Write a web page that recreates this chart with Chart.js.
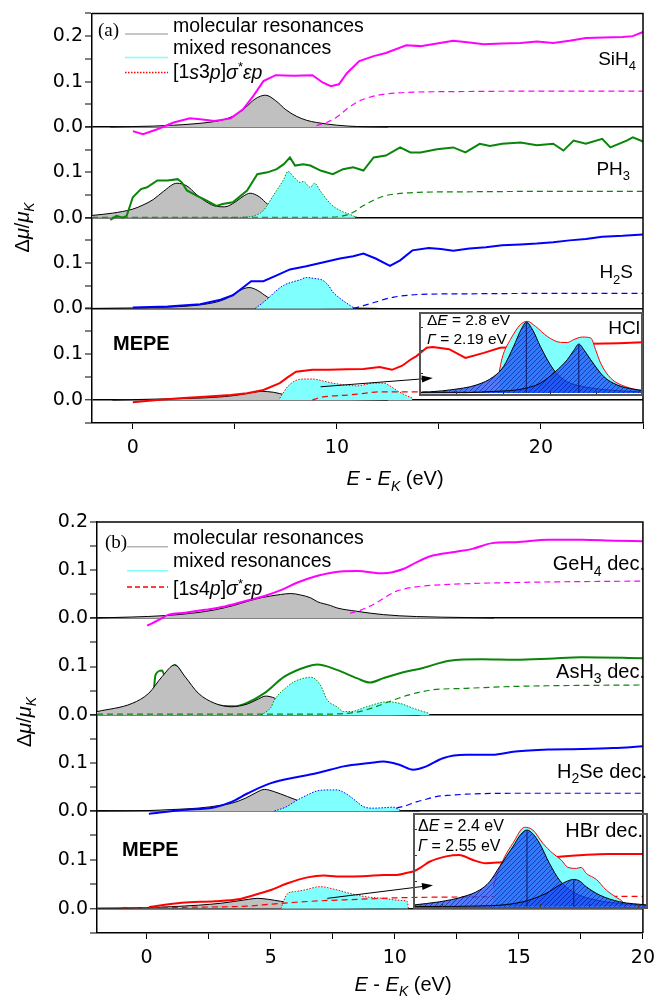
<!DOCTYPE html>
<html>
<head>
<meta charset="utf-8">
<script src="https://cdn.jsdelivr.net/npm/chart.js@4.4.1/dist/chart.umd.min.js"></script>
<style>
  body { margin: 0; background: #fff; }
  #wrap { position: relative; width: 663px; height: 1000px; }
  canvas { position: absolute; }
</style>
</head>
<body>
<div id="wrap">
  <canvas id="pa" width="663" height="495" style="left:0;top:0"></canvas>
  <canvas id="pb" width="663" height="505" style="left:0;top:495px"></canvas>
  <canvas id="ia" width="224" height="84" style="left:419px;top:312px"></canvas>
  <canvas id="ib" width="235" height="96" style="left:413px;top:813px"></canvas>
</div>
<script>
// ---------- panel (a) data : x in eV (E - E_K), y in delta mu / mu_K ----------
var SI_X = [0, 0.5, 1.2, 2.0, 2.8, 3.3, 4.0, 4.8, 5.4, 5.9, 6.4, 7.0, 7.9, 8.8, 9.3, 9.7, 10.1, 10.5, 11.1, 11.8, 12.4, 13.4, 14.1, 14.9, 15.7, 16.5, 17.2, 18.1, 19.0, 19.8, 20.6, 21.4, 22.2, 23.1, 24.0, 24.5, 25];
var SI_Y = [-0.009, -0.016, -0.005, 0.010, 0.019, 0.017, 0.013, 0.019, 0.039, 0.068, 0.101, 0.114, 0.113, 0.114, 0.098, 0.090, 0.094, 0.119, 0.145, 0.156, 0.163, 0.180, 0.178, 0.184, 0.190, 0.186, 0.182, 0.184, 0.185, 0.188, 0.185, 0.190, 0.196, 0.197, 0.198, 0.200, 0.209];
var SI_MOL_X = [-1.1, 0, 1, 2, 3, 4, 4.5, 5, 5.5, 6, 6.5, 7, 7.5, 8, 8.5, 9, 10, 11, 12.5];
var SI_MOL_Y = [0, 0.001, 0.002, 0.004, 0.007, 0.012, 0.017, 0.026, 0.042, 0.062, 0.070, 0.058, 0.038, 0.024, 0.015, 0.010, 0.004, 0.001, 0];
var SI_CONT_X = [9.0, 9.5, 10, 10.5, 11, 11.5, 12, 13, 14, 16, 20, 25];
var SI_CONT_Y = [0.003, 0.010, 0.022, 0.040, 0.055, 0.064, 0.070, 0.075, 0.077, 0.078, 0.079, 0.079];

var PH_X = [-1.1, -0.8, -0.5, -0.3, 0.0, 0.4, 0.7, 1.2, 1.7, 2.2, 2.4, 2.65, 3.1, 3.6, 4.1, 4.4, 4.9, 5.6, 6.1, 6.6, 7.05, 7.4, 7.7, 7.95, 8.35, 8.7, 9.2, 9.8, 10.3, 10.8, 11.3, 11.8, 12.4, 13.1, 13.6, 14.1, 14.9, 15.7, 16.3, 17.0, 17.5, 18.1, 19.0, 19.8, 20.6, 21.1, 21.6, 22.2, 23.0, 23.4, 24.2, 24.5, 25];
var PH_Y = [-0.005, 0.004, 0.0, 0.004, 0.045, 0.063, 0.067, 0.082, 0.082, 0.085, 0.078, 0.060, 0.049, 0.038, 0.026, 0.030, 0.034, 0.060, 0.096, 0.100, 0.107, 0.118, 0.133, 0.115, 0.118, 0.115, 0.104, 0.096, 0.107, 0.111, 0.104, 0.133, 0.137, 0.155, 0.144, 0.144, 0.151, 0.155, 0.144, 0.163, 0.158, 0.163, 0.166, 0.160, 0.163, 0.148, 0.170, 0.163, 0.174, 0.155, 0.170, 0.177, 0.168];
var PH_MOL_X = [-2, -1, 0, 0.5, 1, 1.5, 2.16, 2.65, 3.1, 3.6, 4.1, 4.5, 5.0, 5.4, 5.75, 6.2, 6.6, 7.0, 7.4, 8.2, 9.0, 10.0, 11.0];
var PH_MOL_Y = [0.005, 0.010, 0.019, 0.028, 0.040, 0.058, 0.076, 0.070, 0.052, 0.035, 0.025, 0.024, 0.034, 0.047, 0.054, 0.046, 0.030, 0.019, 0.012, 0.006, 0.003, 0.002, 0.001];
var PH_MIX_X = [4.8, 5.5, 6.0, 6.4, 6.9, 7.4, 7.6, 7.9, 8.2, 8.35, 8.7, 8.9, 9.2, 9.7, 10.2, 10.6, 10.9];
var PH_MIX_Y = [0, 0.001, 0.005, 0.016, 0.050, 0.085, 0.102, 0.089, 0.078, 0.080, 0.067, 0.076, 0.058, 0.030, 0.015, 0.008, 0.002];
var PH_CONT_X = [-2, 9.5, 10.3, 10.8, 11.2, 11.6, 12.0, 12.4, 13, 14, 16, 20, 25];
var PH_CONT_Y = [0.001, 0.001, 0.004, 0.012, 0.024, 0.034, 0.043, 0.049, 0.053, 0.056, 0.057, 0.058, 0.058];

var HS_X = [0, 1.7, 3.3, 4.3, 4.9, 5.4, 5.8, 6.4, 7.05, 7.7, 8.5, 9.3, 10.15, 10.8, 11.3, 11.9, 12.6, 13.1, 13.7, 14.5, 15.1, 15.7, 16.5, 17.3, 18.1, 19.0, 19.8, 20.6, 21.4, 22.2, 23.0, 24.0, 25];
var HS_Y = [0.002, 0.004, 0.009, 0.019, 0.029, 0.046, 0.060, 0.060, 0.073, 0.086, 0.093, 0.101, 0.110, 0.115, 0.121, 0.110, 0.094, 0.106, 0.128, 0.133, 0.131, 0.127, 0.132, 0.135, 0.139, 0.141, 0.143, 0.146, 0.150, 0.153, 0.158, 0.160, 0.163];
var HS_MOL_X = [-2, 0, 1, 2.5, 3.5, 4.1, 4.6, 5.0, 5.4, 5.7, 6.1, 6.6, 7.0, 7.4, 8.0, 9.0, 10.5, 12];
var HS_MOL_Y = [0, 0.001, 0.002, 0.0045, 0.009, 0.014, 0.022, 0.033, 0.043, 0.046, 0.040, 0.025, 0.016, 0.010, 0.006, 0.002, 0.001, 0];
var HS_MIX_X = [6.0, 6.3, 6.7, 7.0, 7.4, 7.8, 8.2, 8.5, 8.9, 9.3, 9.6, 9.8, 10.1, 10.4, 10.8];
var HS_MIX_Y = [0, 0.010, 0.025, 0.038, 0.051, 0.058, 0.063, 0.068, 0.066, 0.062, 0.050, 0.036, 0.024, 0.014, 0.002];
var HS_CONT_X = [10.8, 11.3, 11.9, 12.4, 12.8, 13.5, 14.1, 16, 20, 25];
var HS_CONT_Y = [0.0, 0.006, 0.014, 0.021, 0.025, 0.029, 0.031, 0.032, 0.033, 0.033];

var CL_X = [0, 1.2, 2.3, 3.5, 4.8, 5.6, 6.4, 7.2, 7.6, 8.0, 8.8, 9.6, 10.5, 11.3, 12.1, 12.7, 13.2, 13.6, 13.9, 14.4, 14.7, 15.5, 16.3, 17.2, 18.0, 19.0, 20.0, 21.0, 22.5, 23.8, 25];
var CL_Y = [-0.005, 0.0, 0.004, 0.007, 0.011, 0.015, 0.022, 0.037, 0.050, 0.062, 0.066, 0.066, 0.067, 0.068, 0.072, 0.066, 0.075, 0.088, 0.096, 0.114, 0.116, 0.111, 0.092, 0.103, 0.114, 0.116, 0.118, 0.120, 0.123, 0.124, 0.126];
var CL_MOL_X = [-1, 0, 2, 3, 4, 5, 5.8, 6.3, 6.9, 7.5, 8.0, 8.8, 9.7, 11, 12.5];
var CL_MOL_Y = [0, 0.001, 0.003, 0.004, 0.006, 0.010, 0.016, 0.019, 0.017, 0.011, 0.007, 0.004, 0.002, 0.001, 0];
var CL_MIX_X = [7.2, 7.6, 8.0, 8.4, 8.8, 9.3, 9.8, 10.4, 11.0, 11.4, 11.8, 12.3, 12.6, 12.9, 13.3, 13.7];
var CL_MIX_Y = [0.004, 0.030, 0.043, 0.046, 0.046, 0.042, 0.037, 0.033, 0.031, 0.034, 0.037, 0.037, 0.031, 0.022, 0.012, 0.004];
var CL_CONT_X = [8.8, 9.2, 9.8, 10.5, 11.2, 12.1, 13, 14, 16, 20, 25];
var CL_CONT_Y = [0.0, 0.006, 0.009, 0.011, 0.014, 0.018, 0.018, 0.018, 0.018, 0.018, 0.018];
var CL_ARROW_X = [9.2, 14.7];
var CL_ARROW_Y = [0.029, 0.048];

// HCl inset: decomposition of the mixed resonance
var CLI_ENV_X = [7.3, 7.45, 7.9, 8.43, 8.79, 9.24, 9.87, 10.58, 10.94, 11.3, 11.75, 12.2, 12.46, 12.73, 13.27, 14.17, 15];
var CLI_ENV_Y = [0.014, 0.0228, 0.035, 0.0447, 0.0469, 0.0436, 0.037, 0.0331, 0.033, 0.035, 0.0366, 0.036, 0.0283, 0.0195, 0.0097, 0.0037, 0.0015];
var CLI_P1_X = [3, 4.67, 6.1, 7.0, 7.53, 8.07, 8.45, 8.75, 9.1, 9.5, 10.22, 10.94, 12.0, 13.6, 15];
var CLI_P1_Y = [0.0002, 0.002, 0.0053, 0.0107, 0.0173, 0.0305, 0.041, 0.0463, 0.041, 0.0305, 0.0151, 0.0074, 0.0037, 0.0015, 0.0007];
var CLI_P2_X = [3, 5.56, 7.0, 8.25, 9.0, 9.5, 10.31, 10.94, 11.3, 11.56, 11.85, 12.2, 12.9, 13.6, 14.5, 15];
var CLI_P2_Y = [0.0001, 0.0002, 0.001, 0.002, 0.004, 0.0064, 0.014, 0.0217, 0.028, 0.032, 0.028, 0.0217, 0.0107, 0.0053, 0.0024, 0.0015];

// ---------- panel (b) data ----------
var GE_X = [0.02, 0.49, 0.89, 1.55, 2.35, 3.15, 3.95, 4.75, 5.41, 6.08, 6.75, 7.5, 8.47, 9.54, 10.34, 10.87, 11.4, 12.47, 13.13, 13.93, 14.86, 16.19, 17.53, 18.86, 20];
var GE_Y = [-0.016, -0.004, 0.007, 0.011, 0.017, 0.024, 0.035, 0.046, 0.058, 0.074, 0.086, 0.095, 0.098, 0.093, 0.102, 0.116, 0.128, 0.138, 0.144, 0.156, 0.158, 0.163, 0.163, 0.161, 0.160];
var GE_MOL_X = [-2, 0.75, 2.0, 2.75, 3.5, 4.08, 4.6, 5.01, 5.4, 5.81, 6.2, 6.61, 6.88, 7.41, 7.67, 8.47, 9.54, 10.87, 12.87, 14];
var GE_MOL_Y = [0, 0.005, 0.011, 0.017, 0.026, 0.035, 0.042, 0.046, 0.049, 0.051, 0.048, 0.042, 0.034, 0.026, 0.021, 0.014, 0.007, 0.003, 0.001, 0];
var GE_CONT_X = [8.2, 8.61, 9.27, 9.7, 10.07, 10.87, 12.2, 14.86, 20];
var GE_CONT_Y = [0.010, 0.016, 0.032, 0.046, 0.056, 0.065, 0.070, 0.074, 0.077];

var AS_X = [-0.1, 0.25, 0.36, 0.62, 0.75, 1.0, 1.13, 1.5, 2.0, 2.5, 3.0, 3.5, 4.0, 4.75, 5.55, 6.48, 6.88, 7.67, 8.47, 9.0, 9.54, 10.34, 11.14, 12.2, 13.53, 14.86, 16.19, 17.53, 20];
var AS_Y = [0.003, 0.031, 0.083, 0.092, 0.079, 0.098, 0.103, 0.079, 0.045, 0.026, 0.019, 0.018, 0.024, 0.045, 0.079, 0.100, 0.104, 0.093, 0.076, 0.067, 0.076, 0.088, 0.097, 0.112, 0.115, 0.114, 0.116, 0.119, 0.117];
var AS_MOL_X = [-2, -0.58, 0.09, 0.62, 1.13, 1.55, 2.08, 2.75, 3.42, 4.08, 4.5, 4.8, 5.15, 5.55, 6.35, 7.41, 9, 11];
var AS_MOL_Y = [0.007, 0.024, 0.045, 0.079, 0.103, 0.079, 0.045, 0.024, 0.017, 0.023, 0.033, 0.039, 0.035, 0.024, 0.010, 0.006, 0.002, 0];
var AS_MIX_X = [4.6, 5.0, 5.15, 5.68, 6.0, 6.35, 6.61, 7.0, 7.28, 7.67, 7.94, 8.21, 8.87, 9.67, 10.2, 10.74, 11.4];
var AS_MIX_Y = [0, 0.015, 0.031, 0.059, 0.070, 0.076, 0.078, 0.062, 0.031, 0.017, 0.007, 0.007, 0.017, 0.027, 0.024, 0.014, 0.003];
var AS_CONT_X = [-2, 7.5, 8.47, 9.0, 9.54, 10.34, 11.0, 11.54, 12.87, 14.86, 20];
var AS_CONT_Y = [0.002, 0.002, 0.006, 0.013, 0.023, 0.038, 0.047, 0.052, 0.055, 0.059, 0.062];

var SE_X = [0.09, 1.42, 2.75, 3.42, 4.08, 5.01, 6.08, 6.88, 7.94, 9.0, 9.54, 10.2, 10.74, 11.27, 11.94, 12.87, 13.93, 14.86, 16.19, 17.53, 18.8, 20];
var SE_Y = [-0.006, 0.002, 0.008, 0.019, 0.037, 0.058, 0.071, 0.079, 0.093, 0.100, 0.103, 0.096, 0.086, 0.093, 0.110, 0.117, 0.117, 0.124, 0.128, 0.129, 0.131, 0.135];
var SE_MOL_X = [-2, 0.09, 1.0, 2.08, 3.0, 3.42, 4.0, 4.4, 4.75, 5.1, 5.68, 6.2, 6.75, 7.67, 8.5, 9.54, 11];
var SE_MOL_Y = [0, 0.001, 0.003, 0.006, 0.012, 0.016, 0.027, 0.038, 0.045, 0.041, 0.030, 0.020, 0.013, 0.006, 0.003, 0.001, 0];
var SE_MIX_X = [5.15, 5.6, 6.08, 6.5, 6.88, 7.41, 7.67, 7.9, 8.21, 8.5, 8.74, 9.14, 9.6, 9.94, 10.2];
var SE_MIX_Y = [0, 0.008, 0.023, 0.034, 0.042, 0.044, 0.044, 0.040, 0.030, 0.018, 0.009, 0.006, 0.007, 0.008, 0.002];
var SE_CONT_X = [10.07, 10.5, 10.87, 11.3, 11.67, 12.3, 12.87, 14.86, 20];
var SE_CONT_Y = [0.006, 0.012, 0.019, 0.025, 0.030, 0.033, 0.035, 0.037, 0.037];

var BR_X = [0.09, 1.42, 2.75, 3.68, 4.35, 5.01, 5.68, 6.48, 7.14, 7.67, 8.21, 8.9, 9.54, 10.07, 10.47, 10.74, 11.1, 11.4, 12.07, 12.6, 13.13, 13.67, 14.3, 15.0, 15.8, 16.73, 17.6, 18.59, 20];
var BR_Y = [0.003, 0.012, 0.015, 0.019, 0.028, 0.038, 0.052, 0.064, 0.068, 0.066, 0.066, 0.067, 0.069, 0.069, 0.073, 0.076, 0.086, 0.096, 0.107, 0.110, 0.100, 0.093, 0.095, 0.098, 0.102, 0.107, 0.110, 0.112, 0.112];
var BR_MOL_X = [-2, 0.09, 1.0, 2.08, 3.0, 3.7, 4.1, 4.48, 4.9, 5.4, 6.08, 6.8, 7.41, 8.5, 10];
var BR_MOL_Y = [0.001, 0.002, 0.004, 0.007, 0.011, 0.016, 0.019, 0.021, 0.019, 0.015, 0.010, 0.006, 0.003, 0.001, 0];
var BR_MIX_X = [5.41, 5.68, 6.0, 6.35, 7.0, 7.54, 8.21, 8.87, 9.54, 10.2, 10.5, 10.55];
var BR_MIX_Y = [0.0, 0.031, 0.035, 0.038, 0.045, 0.040, 0.031, 0.024, 0.021, 0.017, 0.015, 0.0];
var BR_CONT_X = [-1, 2, 4, 5, 6, 7, 8, 9, 10, 11, 13, 16, 20];
var BR_CONT_Y = [0.002, 0.003, 0.005, 0.009, 0.013, 0.016, 0.018, 0.020, 0.022, 0.023, 0.024, 0.025, 0.025];
var BR_ARROW_X = [7.28, 11.54];
var BR_ARROW_Y = [0.021, 0.048];

// HBr inset
var BRI_ENV_X = [7.6, 7.75, 8.18, 8.6, 9.2, 9.62, 10.13, 10.64, 11.07, 11.41, 11.84, 12.09, 12.35, 12.86, 13.37, 13.88, 14.21, 14.39];
var BRI_ENV_Y = [0.012, 0.0174, 0.029, 0.0369, 0.0462, 0.0446, 0.0369, 0.031, 0.0272, 0.0229, 0.0223, 0.0229, 0.0194, 0.0159, 0.0097, 0.0055, 0.0029, 0.0];
var BRI_P1_X = [3.5, 4.86, 6.05, 6.9, 7.41, 7.92, 8.6, 9.0, 9.32, 9.65, 9.96, 10.47, 10.98, 11.66, 12.68, 14.05, 15.5];
var BRI_P1_Y = [0.001, 0.0029, 0.0058, 0.0097, 0.0145, 0.0233, 0.0349, 0.042, 0.0446, 0.042, 0.0369, 0.0252, 0.0155, 0.0087, 0.0043, 0.002, 0.0006];
var BRI_P2_X = [3.5, 7.41, 9.11, 10.3, 10.98, 11.4, 11.71, 12.0, 12.35, 13.03, 14.05, 15.5];
var BRI_P2_Y = [0.0001, 0.0006, 0.0029, 0.0078, 0.0126, 0.0150, 0.0159, 0.0150, 0.0116, 0.0068, 0.0029, 0.001];

// ---------- texts ----------
var FONT = "'Liberation Sans', Arial, sans-serif";
var TICK_FONT = "'DejaVu Sans', 'Liberation Sans', sans-serif";
var SERIF = "'Liberation Serif', 'Times New Roman', serif";
var LEG_A = [[['molecular resonances', '']], [['mixed resonances', '']],
             [['[1', ''], ['s', 'i'], ['3', ''], ['p', 'i'], [']', ''], ['σ', 'i'], ['*', 'u'], ['ε', 'i'], ['p', 'i']]];
var LEG_B = [[['molecular resonances', '']], [['mixed resonances', '']],
             [['[1', ''], ['s', 'i'], ['4', ''], ['p', 'i'], [']', ''], ['σ', 'i'], ['*', 'u'], ['ε', 'i'], ['p', 'i']]];
var Y_TITLE = [['Δ', ''], ['μ', 'i'], ['/', ''], ['μ', 'i'], ['K', 'is']];
var X_TITLE = [['E', 'i'], [' - ', ''], ['E', 'i'], ['K', 'is'], [' (eV)', '']];

var MAGENTA = '#ff00ff', GREEN = '#0a850a', BLUE = '#0000ff', RED = '#ff0000';
var GRAY = '#c0c0c0', CYAN = '#80ffff';

// ---------- helpers ----------
function pts(xs, ys) {
    return xs.map(function (x, i) { return {x: x, y: ys[i]}; });
}

function setFont(ctx, size, st, fam) {
    ctx.font = (st.indexOf('i') >= 0 ? 'italic ' : '') + (st.indexOf('b') >= 0 ? 'bold ' : '') + size + 'px ' + fam;
}
function segSize(size, st) {
    return (st.indexOf('s') >= 0 || st.indexOf('u') >= 0) ? Math.round(size * 0.68) : size;
}
function drawRich(ctx, segs, x, y, o) {
    var size = o.size || 18, fam = o.fam || FONT, base = o.base || '';
    var w = 0;
    segs.forEach(function (s) { setFont(ctx, segSize(size, s[1]), base + s[1], fam); w += ctx.measureText(s[0]).width; });
    var cx = o.align === 'right' ? x - w : (o.align === 'center' ? x - w / 2 : x);
    ctx.save();
    ctx.fillStyle = '#000';
    ctx.textBaseline = 'middle';
    ctx.textAlign = 'left';
    segs.forEach(function (s) {
        var st = s[1];
        setFont(ctx, segSize(size, st), base + st, fam);
        var dy = st.indexOf('s') >= 0 ? size * 0.38 : (st.indexOf('u') >= 0 ? -size * 0.3 : 0);
        ctx.fillText(s[0], cx, y + dy);
        cx += ctx.measureText(s[0]).width;
    });
    ctx.restore();
}

// curves of one sub-plot may run into the neighbouring one, as in the original figure
function solid(xs, ys, axis, color, smooth, order) {
    return {data: pts(xs, ys), yAxisID: axis, borderColor: color, borderWidth: 2, fill: false, clip: false,
            order: order || 1, tension: 0, cubicInterpolationMode: smooth ? 'monotone' : 'default'};
}
function dashed(xs, ys, axis, color) {
    return {data: pts(xs, ys), yAxisID: axis, borderColor: color, borderWidth: 1.2, borderDash: [6, 4],
            fill: false, clip: false, order: 2, cubicInterpolationMode: 'monotone'};
}
function mixed(xs, ys, axis, color) {
    return {data: pts(xs, ys), yAxisID: axis, borderColor: color, borderWidth: 1, borderDash: [1.5, 1.5],
            backgroundColor: CYAN, fill: 'origin', clip: false, order: 3, cubicInterpolationMode: 'monotone'};
}
function molecular(xs, ys, axis) {
    return {data: pts(xs, ys), yAxisID: axis, borderColor: '#000', borderWidth: 1, clip: false,
            backgroundColor: GRAY, fill: 'origin', order: 4, cubicInterpolationMode: 'monotone'};
}

function yAxis(min, max, weight, stackWeight, showTop, axW) {
    return {
        type: 'linear', position: 'left', stack: 'p', stackWeight: stackWeight, weight: weight,
        min: min, max: max,
        afterFit: function (s) { s.width = axW; },
        ticks: {
            stepSize: 0.05, includeBounds: false, autoSkip: false, color: '#000', padding: 2,
            font: {family: TICK_FONT, size: 19},
            callback: function (v) {
                if (Math.round(v * 20) % 2 !== 0) return '';
                if (v < -1e-9) return '';
                if (!showTop && Math.abs(v - max) < 1e-9) return '';
                return Math.abs(v).toFixed(1);
            }
        },
        grid: {
            drawOnChartArea: true,
            color: function (c) { return (c.tick && Math.abs(c.tick.value) < 1e-9) ? '#000' : 'rgba(0,0,0,0)'; },
            lineWidth: function (c) { return (c.tick && Math.abs(c.tick.value) < 1e-9) ? 1.6 : 0; },
            tickColor: '#000', tickWidth: 1, tickLength: 7
        },
        border: {color: '#000', width: 1.5}
    };
}

function xAxis(min, max, step, labelEvery, axH) {
    return {
        type: 'linear', position: 'bottom', min: min, max: max,
        afterFit: function (s) { s.height = axH; },
        ticks: {
            stepSize: step, includeBounds: false, autoSkip: false, maxRotation: 0, color: '#000', padding: 8,
            font: {family: TICK_FONT, size: 19},
            callback: function (v) { return Math.abs(v / labelEvery - Math.round(v / labelEvery)) < 1e-6 ? String(v) : ''; }
        },
        grid: {drawOnChartArea: false, color: '#000', tickColor: '#000', tickWidth: 1, tickLength: 6},
        border: {color: '#000', width: 1.5}
    };
}

var decor = {
    id: 'decor',
    afterDraw: function (chart) {
        var o = chart.options.plugins.decor;
        var ctx = chart.ctx, a = chart.chartArea;
        ctx.save();
        ctx.strokeStyle = '#000';
        ctx.lineWidth = 1.5;
        ctx.beginPath();
        ctx.moveTo(a.left, a.top); ctx.lineTo(a.right, a.top); ctx.lineTo(a.right, a.bottom);
        ctx.stroke();
        ctx.restore();

        o.legend.forEach(function (e, i) {
            ctx.save();
            ctx.strokeStyle = e.color; ctx.lineWidth = 1.5; ctx.setLineDash(e.dash || []);
            ctx.beginPath();
            ctx.moveTo(a.left + o.legX[0], a.top + e.ly);
            ctx.lineTo(a.left + o.legX[1], a.top + e.ly);
            ctx.stroke();
            ctx.restore();
            drawRich(ctx, o.legText[i], a.left + o.legX[2], a.top + e.ty, {size: 19.5});
        });
        o.labels.forEach(function (l) { drawRich(ctx, l.text, a.left + l.x, a.top + l.y, l); });

        drawRich(ctx, X_TITLE, a.left + o.xtitle[0], a.top + o.xtitle[1], {size: 20, align: 'center'});
        ctx.save();
        ctx.translate(a.left + o.ytitle[0], a.top + o.ytitle[1]);
        ctx.rotate(-Math.PI / 2);
        drawRich(ctx, Y_TITLE, 0, 0, {size: 20, align: 'center'});
        ctx.restore();

        // arrow towards the inset
        var xs = chart.scales.x, ys = chart.scales[o.arrow.axis];
        var x1 = xs.getPixelForValue(o.arrow.x[0]), y1 = ys.getPixelForValue(o.arrow.y[0]);
        var x2 = xs.getPixelForValue(o.arrow.x[1]), y2 = ys.getPixelForValue(o.arrow.y[1]);
        var ang = Math.atan2(y2 - y1, x2 - x1);
        ctx.save();
        ctx.strokeStyle = '#000'; ctx.fillStyle = '#000'; ctx.lineWidth = 1;
        ctx.beginPath(); ctx.moveTo(x1, y1); ctx.lineTo(x2 - 8 * Math.cos(ang), y2 - 8 * Math.sin(ang)); ctx.stroke();
        ctx.beginPath();
        ctx.moveTo(x2, y2);
        ctx.lineTo(x2 - 11 * Math.cos(ang) + 3.5 * Math.sin(ang), y2 - 11 * Math.sin(ang) - 3.5 * Math.cos(ang));
        ctx.lineTo(x2 - 11 * Math.cos(ang) - 3.5 * Math.sin(ang), y2 - 11 * Math.sin(ang) + 3.5 * Math.cos(ang));
        ctx.closePath(); ctx.fill();
        ctx.restore();
    }
};

var insetDecor = {
    id: 'insetDecor',
    afterDraw: function (chart) {
        var o = chart.options.plugins.insetDecor;
        var ctx = chart.ctx, a = chart.chartArea;
        var sx = chart.scales.x, sy = chart.scales.y;
        ctx.save();
        ctx.strokeStyle = '#333'; ctx.lineWidth = 1;
        sx.ticks.forEach(function (t) {
            var px = Math.round(sx.getPixelForValue(t.value)) + 0.5;
            ctx.beginPath(); ctx.moveTo(px, a.bottom); ctx.lineTo(px, a.bottom - 5); ctx.stroke();
        });
        sy.ticks.forEach(function (t) {
            var py = Math.round(sy.getPixelForValue(t.value)) + 0.5;
            ctx.beginPath(); ctx.moveTo(a.left, py); ctx.lineTo(a.left + 4, py); ctx.stroke();
        });
        ctx.strokeStyle = '#555'; ctx.lineWidth = 2;
        ctx.strokeRect(a.left + 1, a.top + 1, a.right - a.left - 2, a.bottom - a.top - 2);
        ctx.restore();
        o.texts.forEach(function (t) { drawRich(ctx, t.text, a.left + t.x, a.top + t.y, t); });
    }
};

function hatch() {
    var c = document.createElement('canvas');
    c.width = 5; c.height = 5;
    var g = c.getContext('2d');
    g.fillStyle = 'rgba(25,80,245,0.76)';
    g.fillRect(0, 0, 5, 5);
    g.strokeStyle = 'rgba(0,0,130,0.5)';
    g.lineWidth = 1;
    g.beginPath();
    g.moveTo(0, 5); g.lineTo(5, 0);
    g.moveTo(-1, 1); g.lineTo(1, -1);
    g.moveTo(4, 6); g.lineTo(6, 4);
    g.stroke();
    return g.createPattern(c, 'repeat');
}
var HATCH = hatch();

function peakLine(xs, ys) {
    var k = ys.indexOf(Math.max.apply(null, ys));
    return {data: [{x: xs[k], y: 0}, {x: xs[k], y: ys[k]}], borderColor: '#0a1a70', borderWidth: 1, fill: false, order: 0};
}

function baseOptions(pad, scales, dec) {
    return {
        responsive: false, animation: false, maintainAspectRatio: false,
        layout: {padding: pad},
        elements: {point: {radius: 0}},
        plugins: {legend: {display: false}, tooltip: {enabled: false}, decor: dec},
        scales: scales
    };
}

// ---------- panel (a) ----------
new Chart(document.getElementById('pa'), {
    type: 'line',
    data: {datasets: [
        solid(SI_X, SI_Y, 'y0', MAGENTA),
        dashed(SI_CONT_X, SI_CONT_Y, 'y0', MAGENTA),
        molecular(SI_MOL_X, SI_MOL_Y, 'y0'),
        solid(PH_X, PH_Y, 'y1', GREEN),
        dashed(PH_CONT_X, PH_CONT_Y, 'y1', GREEN),
        mixed(PH_MIX_X, PH_MIX_Y, 'y1', GREEN),
        molecular(PH_MOL_X, PH_MOL_Y, 'y1'),
        solid(HS_X, HS_Y, 'y2', BLUE),
        dashed(HS_CONT_X, HS_CONT_Y, 'y2', BLUE),
        mixed(HS_MIX_X, HS_MIX_Y, 'y2', BLUE),
        molecular(HS_MOL_X, HS_MOL_Y, 'y2'),
        solid(CL_X, CL_Y, 'y3', RED),
        dashed(CL_CONT_X, CL_CONT_Y, 'y3', RED),
        mixed(CL_MIX_X, CL_MIX_Y, 'y3', RED),
        molecular(CL_MOL_X, CL_MOL_Y, 'y3')
    ]},
    options: baseOptions({left: 0, top: 12, right: 20, bottom: 0}, {
        x: xAxis(-2, 25, 5, 10, 72),
        y0: yAxis(0, 0.25, 4, 114, false, 92),
        y1: yAxis(0, 0.2, 3, 91, false, 92),
        y2: yAxis(0, 0.2, 2, 91, false, 92),
        y3: yAxis(-0.05, 0.2, 1, 115, false, 92)
    }, {
        legX: [33, 76, 81],
        legText: LEG_A,
        legend: [{color: '#b4b4b4', ly: 20.7, ty: 13}, {color: CYAN, ly: 44, ty: 35.7}, {color: RED, dash: [1.5, 1.5], ly: 59, ty: 59.7}],
        labels: [
            {text: [['(a)', '']], x: 6, y: 18, size: 19, fam: SERIF},
            {text: [['SiH', ''], ['4', 's']], x: 544, y: 46, size: 19, align: 'right'},
            {text: [['PH', ''], ['3', 's']], x: 538, y: 156, size: 19, align: 'right'},
            {text: [['H', ''], ['2', 's'], ['S', '']], x: 541, y: 259.7, size: 19, align: 'right'},
            {text: [['HCl', '']], x: 548, y: 315, size: 19, align: 'right'},
            {text: [['MEPE', '']], x: 21, y: 331, size: 20, base: 'b'}
        ],
        xtitle: [303, 466],
        ytitle: [-69, 214],
        arrow: {axis: 'y3', x: CL_ARROW_X, y: CL_ARROW_Y}
    }),
    plugins: [decor]
});

// ---------- panel (b) ----------
new Chart(document.getElementById('pb'), {
    type: 'line',
    data: {datasets: [
        solid(GE_X, GE_Y, 'y0', MAGENTA, true),
        dashed(GE_CONT_X, GE_CONT_Y, 'y0', MAGENTA),
        molecular(GE_MOL_X, GE_MOL_Y, 'y0'),
        solid(AS_X, AS_Y, 'y1', GREEN, true, 5),
        dashed(AS_CONT_X, AS_CONT_Y, 'y1', GREEN),
        mixed(AS_MIX_X, AS_MIX_Y, 'y1', GREEN),
        molecular(AS_MOL_X, AS_MOL_Y, 'y1'),
        solid(SE_X, SE_Y, 'y2', BLUE, true),
        dashed(SE_CONT_X, SE_CONT_Y, 'y2', BLUE),
        mixed(SE_MIX_X, SE_MIX_Y, 'y2', BLUE),
        molecular(SE_MOL_X, SE_MOL_Y, 'y2'),
        solid(BR_X, BR_Y, 'y3', RED, true),
        dashed(BR_CONT_X, BR_CONT_Y, 'y3', RED),
        mixed(BR_MIX_X, BR_MIX_Y, 'y3', RED),
        molecular(BR_MOL_X, BR_MOL_Y, 'y3')
    ]},
    options: baseOptions({left: 0, top: 27, right: 14, bottom: 0}, {
        x: xAxis(-2, 20, 2.5, 5, 67),
        y0: yAxis(0, 0.2, 4, 96, true, 97),
        y1: yAxis(0, 0.2, 3, 97, false, 97),
        y2: yAxis(0, 0.2, 2, 96, false, 97),
        y3: yAxis(-0.05, 0.2, 1, 122, false, 97)
    }, {
        legX: [30, 71, 76],
        legText: LEG_B,
        legend: [{color: '#b4b4b4', ly: 24.7, ty: 17}, {color: CYAN, ly: 48.7, ty: 40}, {color: RED, dash: [5, 3], ly: 65, ty: 68}],
        labels: [
            {text: [['(b)', '']], x: 8, y: 21, size: 19, fam: SERIF},
            {text: [['GeH', ''], ['4', 's'], [' dec.', '']], x: 548, y: 42.7, size: 20, align: 'right'},
            {text: [['AsH', ''], ['3', 's'], [' dec.', '']], x: 548, y: 150, size: 20, align: 'right'},
            {text: [['H', ''], ['2', 's'], ['Se dec.', '']], x: 550, y: 250, size: 20, align: 'right'},
            {text: [['HBr dec.', '']], x: 546, y: 309, size: 20, align: 'right'},
            {text: [['MEPE', '']], x: 25, y: 328, size: 20, base: 'b'}
        ],
        xtitle: [306, 463],
        ytitle: [-72, 200],
        arrow: {axis: 'y3', x: BR_ARROW_X, y: BR_ARROW_Y}
    }),
    plugins: [decor]
});

// ---------- insets ----------
function inset(id, env, p1, p2, xr, yr, texts) {
    new Chart(document.getElementById(id), {
        type: 'line',
        data: {datasets: [
            peakLine(p1[0], p1[1]),
            peakLine(p2[0], p2[1]),
            {data: pts(p2[0], p2[1]), borderColor: '#000', borderWidth: 1, backgroundColor: HATCH, fill: 'origin', order: 1, cubicInterpolationMode: 'monotone'},
            {data: pts(p1[0], p1[1]), borderColor: '#000', borderWidth: 1, backgroundColor: HATCH, fill: 'origin', order: 2, cubicInterpolationMode: 'monotone'},
            {data: pts(env[0], env[1]), borderColor: RED, borderWidth: 1, backgroundColor: CYAN, fill: 'origin', order: 3, cubicInterpolationMode: 'monotone'}
        ]},
        options: {
            responsive: false, animation: false, maintainAspectRatio: false,
            layout: {padding: 0},
            elements: {point: {radius: 0}},
            plugins: {legend: {display: false}, tooltip: {enabled: false}, insetDecor: {texts: texts}},
            scales: {
                x: {type: 'linear', display: false, min: xr[0], max: xr[1], ticks: {stepSize: 2.5, includeBounds: false}},
                y: {type: 'linear', display: false, min: yr[0], max: yr[1], ticks: {stepSize: 0.005, includeBounds: false}}
            }
        },
        plugins: [insetDecor]
    });
}

inset('ia', [CLI_ENV_X, CLI_ENV_Y], [CLI_P1_X, CLI_P1_Y], [CLI_P2_X, CLI_P2_Y], [3, 15], [-0.002, 0.053], [
    {text: [['Δ', ''], ['E', 'i'], [' = 2.8 eV', '']], x: 8, y: 9, size: 15.5},
    {text: [['Γ', 'i'], [' = 2.19 eV', '']], x: 8, y: 28, size: 15.5}
]);
inset('ib', [BRI_ENV_X, BRI_ENV_Y], [BRI_P1_X, BRI_P1_Y], [BRI_P2_X, BRI_P2_Y], [3.5, 15.5], [-0.0013, 0.0545], [
    {text: [['Δ', ''], ['E', 'i'], [' = 2.4 eV', '']], x: 5, y: 14, size: 16},
    {text: [['Γ', 'i'], [' = 2.55 eV', '']], x: 5, y: 34, size: 16}
]);
</script>
</body>
</html>
